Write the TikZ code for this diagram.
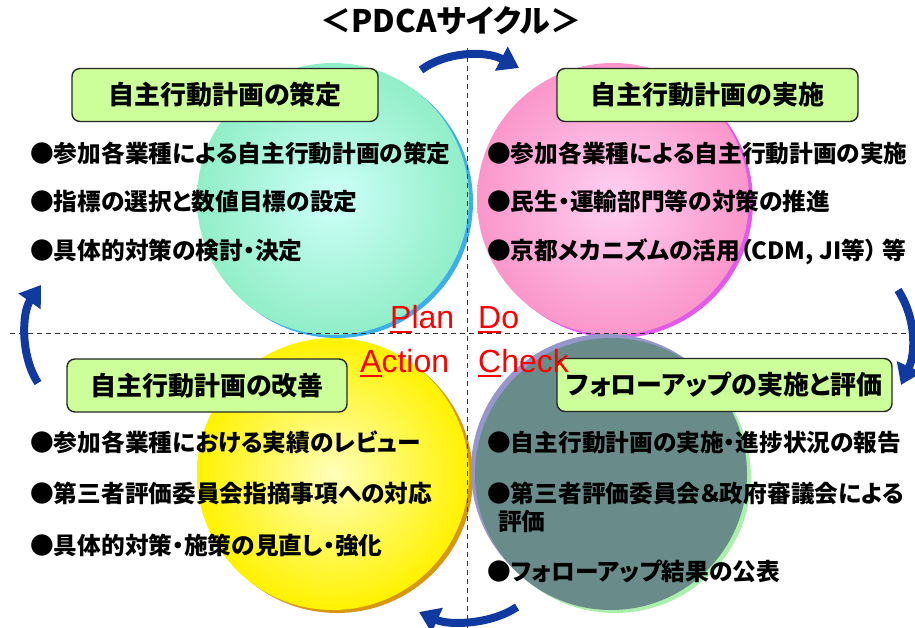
\documentclass[tikz,border=0pt]{standalone}
\usepackage{fontspec}
\setmainfont{Liberation Sans}
\newfontfamily\jpfont{Noto Sans CJK JP}[RawFeature=+palt]
\usetikzlibrary{arrows.meta}
\definecolor{boxgreen}{RGB}{204,255,153}
\definecolor{cycleblue}{RGB}{16,58,160}
\definecolor{planin}{RGB}{205,255,248}
\definecolor{planout}{RGB}{145,238,200}
\definecolor{planrim}{RGB}{60,175,235}
\definecolor{doin}{RGB}{255,208,242}
\definecolor{doout}{RGB}{250,150,202}
\definecolor{dorim}{RGB}{225,90,235}
\definecolor{actin}{RGB}{255,255,185}
\definecolor{actout}{RGB}{255,242,0}
\definecolor{actrim}{RGB}{215,150,20}
\definecolor{checkfill}{RGB}{105,140,138}
\definecolor{checkrim}{RGB}{170,240,170}
\definecolor{checktop}{RGB}{150,150,205}
\newcommand\firstbar[1]{\setbox0\hbox{#1}\rlap{\rule[-5pt]{\wd0}{2.5pt}}#1}

\begin{document}
\begin{tikzpicture}[x=1pt,y=-1pt,
    stagebox/.style={draw=black!85, line width=1.4pt, rounded corners=8pt,
      fill=boxgreen, minimum height=53pt, inner sep=0pt,
      font=\jpfont\bfseries\fontsize{26pt}{30pt}\selectfont},
    item/.style={anchor=base west, inner sep=0pt,
      font=\jpfont\bfseries\fontsize{23.7pt}{28pt}\selectfont},
    pdca/.style={anchor=base west, inner sep=0pt, text=red,
      font=\fontsize{32pt}{38pt}\selectfont},
    cycle/.style={draw=cycleblue, line width=8pt,
      -{Triangle[length=20pt,width=26pt]}},
    guide/.style={black!80, line width=1pt, dash pattern=on 5pt off 4pt}]

  \useasboundingbox (0,0) rectangle (915,628);

  % circles
  \fill[planrim] (337,202) circle (136pt);
  \shade[inner color=planin, outer color=planout] (333,199) circle (136pt);
  \fill[dorim] (617,202) circle (136pt);
  \shade[inner color=doin, outer color=doout] (613,199) circle (136pt);
  \fill[actrim] (337,477) circle (136pt);
  \shade[inner color=actin, outer color=actout] (333,474) circle (136pt);
  \fill[checktop] (607,470) circle (136pt);
  \fill[checkrim] (615,477) circle (136pt);
  \fill[checkfill] (611,474) circle (136pt);

  \draw[guide] (467,48) -- (467,628);
  \draw[guide] (10,333) -- (910,333);

  \node (title) at (451,21) {\jpfont\bfseries\fontsize{31pt}{35pt}\selectfont ＜PDCAサイクル＞};

  \node[stagebox, minimum width=306pt] (plan box) at (225,95) {自主行動計画の策定};
  \node[stagebox, minimum width=301pt] (do box) at (707.5,95) {自主行動計画の実施};
  \node[stagebox, minimum width=280pt] (act box) at (207,385.5) {自主行動計画の改善};
  \node[stagebox, minimum width=335pt] (check box) at (724.5,385) {フォローアップの実施と評価};

  \node[item] (plan 1) at (30,163) {●参加各業種による自主行動計画の策定};
  \node[item] (plan 2) at (30,211) {●指標の選択と数値目標の設定};
  \node[item] (plan 3) at (30,260) {●具体的対策の検討・決定};

  \node[item] (do 1) at (487,163) {●参加各業種による自主行動計画の実施};
  \node[item] (do 2) at (487,211) {●民生・運輸部門等の対策の推進};
  \node[item] (do 3) at (487,260) {●京都メカニズムの活用（CDM, JI等） 等};

  \node[item] (act 1) at (30,451) {●参加各業種における実績のレビュー};
  \node[item] (act 2) at (30,502) {●第三者評価委員会指摘事項への対応};
  \node[item] (act 3) at (30,554) {●具体的対策・施策の見直し・強化};

  \node[item] (check 1) at (487,451) {●自主行動計画の実施・進捗状況の報告};
  \node[item] (check 2) at (487,502) {●第三者評価委員会＆政府審議会による};
  \node[item] (check 2b) at (498,530) {評価};
  \node[item] (check 3) at (487,580) {●フォローアップ結果の公表};

  \node[pdca] (plan word) at (390,328) {\firstbar{P}lan};
  \node[pdca] (do word) at (478,328) {\firstbar{D}o};
  \node[pdca] (act word) at (360,372) {\firstbar{A}ction};
  \node[pdca] (check word) at (478,372) {\firstbar{C}heck};

  % cycle arrows
  \coordinate (pd tail) at (421,70);
  \coordinate (pd tip) at (519,68);
  \coordinate (dc tail) at (898,290);
  \coordinate (dc tip) at (901,385);
  \coordinate (ca tail) at (517,607);
  \coordinate (ca tip) at (419,612);
  \coordinate (ap tail) at (38,383);
  \coordinate (ap tip) at (41,285);
  \draw[cycle] (pd tail) .. controls (445,52) and (485,50) .. (pd tip);
  \draw[cycle] (dc tail) .. controls (916,318) and (916,352) .. (dc tip);
  \draw[cycle] (ca tail) .. controls (492,624) and (450,626) .. (ca tip);
  \draw[cycle] (ap tail) .. controls (20,355) and (22,312) .. (ap tip);

\end{tikzpicture}
\end{document}
